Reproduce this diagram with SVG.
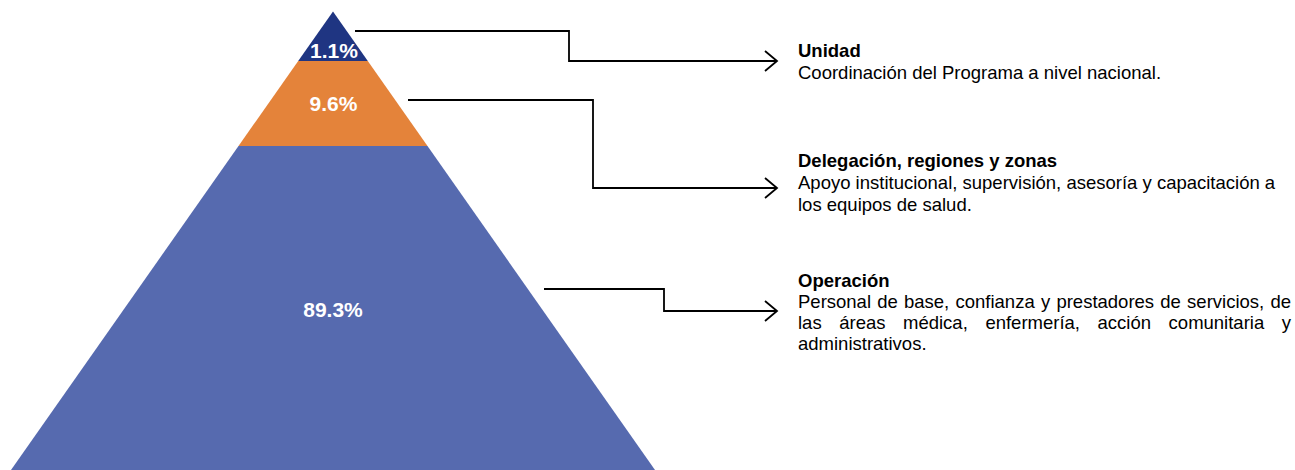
<svg xmlns="http://www.w3.org/2000/svg" width="1295" height="470" viewBox="0 0 1295 470">
<style>
.pct{font-family:"Liberation Sans",Arial,sans-serif;font-size:21px;font-weight:bold;fill:#fff;text-anchor:middle}
.ttl{font-family:"Liberation Sans",Arial,sans-serif;font-size:18.5px;font-weight:bold;fill:#000}
.txt{font-family:"Liberation Sans",Arial,sans-serif;font-size:18.5px;fill:#000}
.con{fill:none;stroke:#000;stroke-width:1.8;marker-end:url(#arr)}
</style>
<defs>
<marker id="arr" markerWidth="16" markerHeight="24" refX="13" refY="11" orient="auto" markerUnits="userSpaceOnUse">
<path d="M1,1 L13,11 L1,21" fill="none" stroke="#000" stroke-width="1.8"/>
</marker>
</defs>
<rect width="1295" height="470" fill="#fff"/>
<g id="tier-unidad">
<polygon points="333,11.5 367.8,61 298.2,61" fill="#1F3582"/>
<text class="pct" x="334" y="58">1.1%</text>
</g>
<g id="tier-delegacion">
<polygon points="298.2,61 367.8,61 427.5,146 238.5,146" fill="#E4833A"/>
<text class="pct" x="333.5" y="111">9.6%</text>
</g>
<g id="tier-operacion">
<polygon points="238.5,146 427.5,146 655,470 11,470" fill="#566AAF"/>
<text class="pct" x="333" y="317">89.3%</text>
</g>
<g id="connectors">
<path class="con" d="M355,31 H569 V61 H777"/>
<path class="con" d="M408,100 H593 V188 H777"/>
<path class="con" d="M544,289 H664 V311 H777"/>
</g>
<g id="label-unidad">
<text class="ttl" x="798" y="57">Unidad</text>
<text class="txt" x="798" y="79">Coordinación del Programa a nivel nacional.</text>
</g>
<g id="label-delegacion">
<text class="ttl" x="798" y="167">Delegación, regiones y zonas</text>
<text class="txt" x="798" y="189">Apoyo institucional, supervisión, asesoría y capacitación a</text>
<text class="txt" x="798" y="211">los equipos de salud.</text>
</g>
<g id="label-operacion">
<text class="ttl" x="798" y="287">Operación</text>
<text class="txt" y="308"><tspan x="798">Personal</tspan><tspan x="877.2">de</tspan><tspan x="904">base,</tspan><tspan x="955.5">confianza</tspan><tspan x="1040.9">y</tspan><tspan x="1056.4">prestadores</tspan><tspan x="1160.3">de</tspan><tspan x="1187.1">servicios,</tspan><tspan x="1270.4">de</tspan></text>
<text class="txt" y="329"><tspan x="798">las</tspan><tspan x="839.2">áreas</tspan><tspan x="903">médica,</tspan><tspan x="985.4">enfermería,</tspan><tspan x="1097.5">acción</tspan><tspan x="1168.6">comunitaria</tspan><tspan x="1281.8">y</tspan></text>
<text class="txt" x="798" y="350">administrativos.</text>
</g>
</svg>
